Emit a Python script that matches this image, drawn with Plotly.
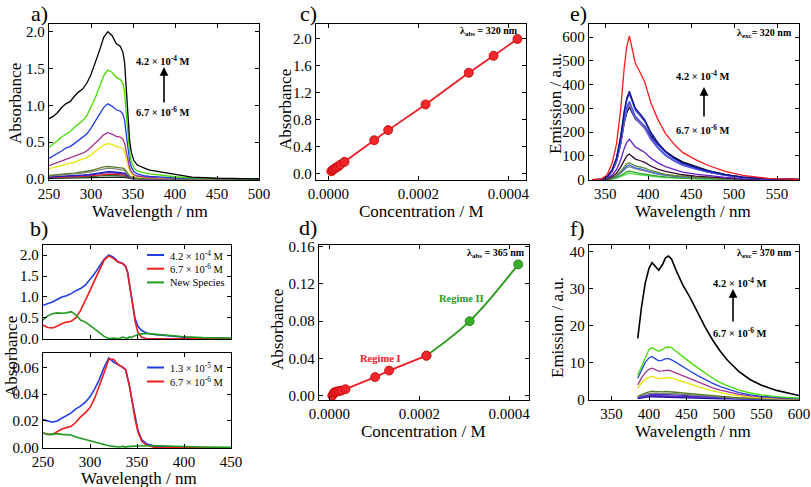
import plotly.graph_objects as go

W, H = 811, 487
SERIF = "Liberation Serif, Times New Roman, Times, serif"

# ---------------- Panel a: absorption spectra ----------------
WL_A = [250,255,260,265,270,275,280,285,290,295,300,305,310,315,320,325,330,335,338,340,342,344,346,348,351,355,360,365,370,380,390,400,420,450,500]
A_BLACK  = [0.82,0.85,0.90,0.97,1.02,1.05,1.12,1.18,1.22,1.30,1.42,1.57,1.74,1.92,2.00,1.95,1.84,1.80,1.72,1.58,1.20,0.82,0.52,0.36,0.25,0.19,0.16,0.14,0.12,0.10,0.08,0.055,0.025,0.01,0.0]
A_GREEN  = [0.43,0.47,0.52,0.57,0.61,0.64,0.70,0.75,0.79,0.86,0.97,1.10,1.25,1.40,1.48,1.45,1.38,1.35,1.30,1.18,0.88,0.58,0.36,0.24,0.15,0.11,0.09,0.08,0.07,0.055,0.045,0.03,0.015,0.005,0.0]
A_BLUE   = [0.28,0.31,0.34,0.38,0.42,0.44,0.48,0.52,0.56,0.61,0.69,0.78,0.87,0.97,1.02,0.99,0.94,0.92,0.88,0.80,0.60,0.40,0.25,0.16,0.10,0.07,0.05,0.04,0.035,0.025,0.02,0.015,0.008,0.003,0.0]
A_MAG    = [0.18,0.20,0.22,0.24,0.26,0.28,0.30,0.32,0.35,0.38,0.43,0.48,0.54,0.60,0.63,0.61,0.58,0.57,0.54,0.49,0.37,0.24,0.15,0.10,0.06,0.04,0.03,0.025,0.02,0.015,0.012,0.008,0.004,0.002,0.0]
A_YELLOW = [0.14,0.15,0.165,0.18,0.20,0.21,0.23,0.25,0.27,0.29,0.33,0.37,0.42,0.46,0.48,0.47,0.44,0.43,0.41,0.37,0.28,0.18,0.11,0.07,0.045,0.03,0.022,0.018,0.015,0.012,0.009,0.006,0.003,0.001,0.0]
A_OLIVE  = [0.05,0.053,0.058,0.063,0.07,0.075,0.08,0.087,0.093,0.10,0.115,0.13,0.148,0.163,0.17,0.166,0.158,0.155,0.148,0.135,0.10,0.065,0.04,0.027,0.018,0.012,0.009,0.007,0.006,0.005,0.004,0.003,0.002,0.001,0.0]
A_GRAY   = [0.04,0.043,0.048,0.053,0.058,0.062,0.068,0.073,0.078,0.085,0.097,0.11,0.125,0.14,0.148,0.145,0.138,0.135,0.13,0.118,0.088,0.057,0.035,0.023,0.015,0.01,0.008,0.006,0.005,0.004,0.003,0.002,0.001,0.0,0.0]
A_BLUE2  = [0.028,0.03,0.033,0.036,0.04,0.042,0.045,0.049,0.053,0.057,0.065,0.074,0.084,0.094,0.10,0.098,0.093,0.091,0.087,0.079,0.058,0.037,0.023,0.015,0.01,0.007,0.005,0.004,0.003,0.002,0.002,0.001,0.0,0.0,0.0]
A_PURPLE = [0.024,0.026,0.028,0.031,0.034,0.036,0.038,0.042,0.045,0.049,0.056,0.063,0.072,0.08,0.085,0.083,0.079,0.077,0.074,0.067,0.049,0.031,0.02,0.013,0.009,0.006,0.004,0.003,0.003,0.002,0.001,0.001,0.0,0.0,0.0]
A_RED    = [0.02,0.021,0.023,0.025,0.027,0.029,0.031,0.034,0.036,0.039,0.045,0.05,0.057,0.064,0.068,0.066,0.063,0.062,0.059,0.054,0.039,0.025,0.016,0.01,0.007,0.005,0.003,0.003,0.002,0.002,0.001,0.001,0.0,0.0,0.0]
A_DGREEN = [0.015,0.016,0.017,0.018,0.02,0.021,0.023,0.025,0.027,0.029,0.033,0.037,0.042,0.047,0.05,0.049,0.046,0.045,0.043,0.039,0.029,0.018,0.012,0.008,0.005,0.004,0.003,0.002,0.002,0.001,0.001,0.0,0.0,0.0,0.0]
A_DARK   = [0.009,0.01,0.011,0.012,0.013,0.014,0.015,0.016,0.017,0.018,0.02,0.022,0.025,0.028,0.03,0.029,0.028,0.027,0.026,0.023,0.017,0.011,0.007,0.005,0.003,0.002,0.002,0.001,0.001,0.001,0.0,0.0,0.0,0.0,0.0]

# ---------------- Panel b ----------------
WL_B = [250,255,260,265,270,275,280,285,290,295,300,305,310,315,320,325,330,335,338,340,342,344,346,348,351,355,360,365,370,380,390,400,420,450]
B_TOP_HIGH = [0.80,0.84,0.88,0.94,1.00,1.03,1.08,1.15,1.20,1.28,1.42,1.56,1.73,1.90,2.00,1.95,1.84,1.80,1.73,1.60,1.30,1.00,0.72,0.48,0.30,0.20,0.14,0.12,0.10,0.08,0.06,0.04,0.02,0.01]
B_TOP_LOW  = [0.33,0.27,0.26,0.30,0.36,0.40,0.42,0.50,0.68,0.90,1.15,1.40,1.65,1.88,1.98,1.92,1.83,1.79,1.72,1.58,1.30,1.00,0.70,0.42,0.15,0.04,0.01,0.0,0.0,0.0,0.0,0.0,0.0,0.0]
B_TOP_NEW  = [0.45,0.55,0.60,0.62,0.61,0.62,0.65,0.57,0.45,0.40,0.32,0.24,0.15,0.06,0.01,0.02,0.0,0.04,0.02,0.01,0.05,0.03,0.06,0.08,0.10,0.12,0.13,0.12,0.11,0.09,0.07,0.05,0.03,0.02]
B_BOT_HIGH = [0.021,0.020,0.019,0.020,0.022,0.024,0.026,0.029,0.031,0.034,0.038,0.044,0.051,0.060,0.067,0.064,0.062,0.060,0.058,0.053,0.046,0.038,0.030,0.022,0.013,0.006,0.003,0.002,0.001,0.001,0.0005,0.0,0.0,0.0]
B_BOT_LOW  = [0.011,0.010,0.010,0.012,0.014,0.015,0.016,0.019,0.023,0.026,0.030,0.037,0.046,0.056,0.066,0.066,0.062,0.060,0.058,0.053,0.046,0.038,0.029,0.021,0.012,0.005,0.002,0.001,0.0,0.0,0.0,0.0,0.0,0.0]
B_BOT_NEW  = [0.011,0.010,0.010,0.0105,0.010,0.010,0.0095,0.008,0.007,0.006,0.005,0.004,0.003,0.002,0.0015,0.001,0.0005,0.001,0.0005,0.0008,0.001,0.0008,0.001,0.0012,0.0013,0.0015,0.0018,0.0015,0.0015,0.0012,0.001,0.0008,0.0005,0.0003]
B_LABELS_TOP = ["4.2 × 10<sup>-4</sup> M", "6.7 × 10<sup>-6</sup> M", "New Species"]
B_LABELS_BOT = ["1.3 × 10<sup>-5</sup> M", "6.7 × 10<sup>-6</sup> M"]
B_COLORS = ["#1f3fe0", "#ee1c1c", "#1f9a1f"]

# ---------------- Panel c ----------------
CONC_C = [6.7e-6,1.0e-5,1.3e-5,1.7e-5,2.2e-5,2.7e-5,3.6e-5,1.02e-4,1.33e-4,2.16e-4,3.12e-4,3.67e-4,4.2e-4]
ABS_C  = [0.03,0.05,0.065,0.085,0.10,0.13,0.17,0.49,0.64,1.02,1.49,1.74,1.99]

# ---------------- Panel d ----------------
CONC_D1 = [6.7e-6,1.0e-5,1.3e-5,1.7e-5,2.2e-5,2.7e-5,3.6e-5,1.02e-4,1.33e-4,2.16e-4]
ABS_D1  = [0.0,0.003,0.004,0.0045,0.005,0.0055,0.007,0.020,0.027,0.043]
CONC_D2 = [2.16e-4,3.12e-4,4.2e-4]
ABS_D2  = [0.043,0.080,0.141]

# ---------------- Panel e: emission (exc 320 nm) ----------------
WL_E = [335,345,352,358,363,368,372,375,378,381,385,390,396,403,411,420,430,440,455,470,490,510,540,575]
E_RED    = [0,3,20,70,150,300,470,560,605,560,490,455,410,325,255,195,150,115,85,60,35,18,6,1]
E_NAVY   = [0,2,12,43,92,185,289,344,372,344,301,280,252,200,157,120,92,71,52,37,22,11,4,1]
E_BLUE1  = [0,2,12,42,90,180,281,335,362,335,293,272,245,194,152,117,90,69,51,36,21,11,4,1]
E_BLACK  = [0,2,10,35,76,151,237,282,305,285,255,240,225,185,150,120,95,75,55,38,22,11,4,1]
E_BLUE2  = [0,2,11,38,82,164,256,306,330,306,267,248,224,177,139,106,82,63,46,33,19,10,3,1]
E_PINK   = [0,2,11,37,80,160,250,298,322,298,261,242,218,173,136,104,80,61,45,32,19,10,3,1]
E_BLUE3  = [0,2,10,37,78,156,245,292,315,292,255,237,214,169,133,101,78,60,44,31,18,9,3,1]
E_PURPLE = [0,1,6,20,42,84,132,157,170,157,138,128,115,91,72,55,42,32,24,17,10,5,2,0]
E_MAROON = [0,1,4,13,27,54,84,100,108,100,87,81,73,58,45,35,27,21,15,11,6,3,1,0]
E_OLIVE  = [0,0,2,8,18,36,56,67,72,67,58,54,49,39,30,23,18,14,10,7,4,2,1,0]
E_BLUE4  = [0,0,2,7,15,31,48,57,62,57,50,47,42,33,26,20,15,12,9,6,4,2,1,0]
E_GRAY   = [0,0,2,6,14,27,43,51,55,51,45,41,37,30,23,18,14,10,8,5,3,2,1,0]
E_GREEN  = [0,0,1,4,9,18,28,33,36,33,29,27,24,19,15,12,9,7,5,4,2,1,0,0]
E_LGREEN = [0,0,1,3,7,14,22,26,28,26,23,21,19,15,12,9,7,5,4,3,2,1,0,0]

# ---------------- Panel f: emission (exc 370 nm) ----------------
WL_F = [385,390,395,400,404,408,413,418,422,426,430,436,445,455,465,475,485,495,505,520,535,550,570,600]
F_BLACK  = [16.5,25,31.5,35.5,37,36.2,35,36.5,38.3,38.8,38,35,31,27.5,23.5,19.5,16,13,10.5,7.5,5.3,3.8,2.4,1.0]
F_GREEN  = [6.5,9,11.5,13.5,14,13.5,13,13.5,14,14.2,14,13,11.5,10,8.5,7,5.7,4.5,3.6,2.5,1.7,1.2,0.7,0.3]
F_BLUE   = [5.7,8,10,11.2,11.6,11,10.4,10.6,11,11,10.7,10,8.8,7.6,6.4,5.3,4.3,3.4,2.7,1.8,1.2,0.8,0.5,0.2]
F_MAG    = [3.9,5.8,7.2,8.1,8.4,8.1,7.6,7.7,7.9,7.9,7.6,7.1,6.3,5.4,4.6,3.8,3.1,2.5,2.0,1.3,0.9,0.6,0.3,0.1]
F_YELLOW = [3.0,4.4,5.4,6.0,6.2,6.0,5.6,5.7,5.9,5.9,5.7,5.3,4.7,4.0,3.4,2.8,2.3,1.8,1.4,0.9,0.6,0.4,0.2,0.1]
F_OLIVE  = [0.8,1.3,1.7,2.0,2.2,2.1,2.0,2.0,2.1,2.1,2.0,1.9,1.7,1.5,1.3,1.1,0.9,0.7,0.55,0.35,0.22,0.15,0.1,0.05]
F_GRAY   = [0.7,1.1,1.4,1.6,1.7,1.65,1.6,1.6,1.65,1.65,1.6,1.5,1.35,1.2,1.0,0.85,0.7,0.55,0.45,0.3,0.2,0.12,0.08,0.04]
F_BLUE2  = [0.5,0.8,1.0,1.2,1.3,1.25,1.2,1.2,1.25,1.25,1.2,1.1,1.0,0.9,0.75,0.65,0.52,0.42,0.33,0.22,0.15,0.1,0.06,0.03]
F_PURPLE = [0.4,0.6,0.8,0.95,1.0,0.97,0.93,0.93,0.97,0.97,0.93,0.86,0.78,0.68,0.58,0.5,0.4,0.32,0.26,0.17,0.11,0.07,0.04,0.02]
F_NAVY   = [0.3,0.5,0.65,0.75,0.8,0.78,0.75,0.75,0.78,0.78,0.75,0.7,0.62,0.55,0.47,0.4,0.32,0.26,0.2,0.14,0.09,0.06,0.03,0.01]

# ---------------------------------------------------------------
def px(x):
    return x / W

def py(y):
    return 1 - y / H

fig = go.Figure()

def line(x, y, color, ax, width=1.3, name=None, shape="linear"):
    fig.add_trace(go.Scatter(
        x=x, y=y, mode="lines", line=dict(color=color, width=width, shape=shape),
        xaxis="x" + ax, yaxis="y" + ax, name=name or "",
        showlegend=False, hoverinfo="skip"))

# a
for ys, c in [(A_DARK, "#202020"), (A_DGREEN, "#1f6f1f"), (A_RED, "#e02020"), (A_PURPLE, "#8020c0"),
              (A_BLUE2, "#2020c0"), (A_GRAY, "#7f7f7f"), (A_OLIVE, "#5a7f2a"), (A_YELLOW, "#e6e600"),
              (A_MAG, "#a83294"), (A_BLUE, "#1c3ee6"), (A_GREEN, "#44dd00"), (A_BLACK, "#000000")]:
    line(WL_A, ys, c, "1")

# b top
line(WL_B, B_TOP_HIGH, B_COLORS[0], "2", 1.6, B_LABELS_TOP[0])
line(WL_B, B_TOP_LOW, B_COLORS[1], "2", 1.6, B_LABELS_TOP[1])
line(WL_B, B_TOP_NEW, B_COLORS[2], "2", 1.6, B_LABELS_TOP[2])
# b bottom
line(WL_B, B_BOT_HIGH, B_COLORS[0], "3", 1.6, B_LABELS_BOT[0])
line(WL_B, B_BOT_LOW, B_COLORS[1], "3", 1.6, B_LABELS_BOT[1])
line(WL_B, B_BOT_NEW, B_COLORS[2], "3", 1.6)

# c
fig.add_trace(go.Scatter(x=CONC_C, y=ABS_C, mode="lines+markers", xaxis="x4", yaxis="y4",
                         line=dict(color="#ee1c24", width=1.8),
                         marker=dict(size=9, color="#f0282e", line=dict(color="#c00000", width=0.8)),
                         showlegend=False, hoverinfo="skip"))
# d
fig.add_trace(go.Scatter(x=CONC_D2, y=ABS_D2, mode="lines+markers", xaxis="x5", yaxis="y5",
                         line=dict(color="#2a9a1a", width=1.8, shape="spline"),
                         marker=dict(size=9, color="#35b02a", line=dict(color="#1a7a10", width=0.8)),
                         showlegend=False, hoverinfo="skip"))
fig.add_trace(go.Scatter(x=CONC_D1, y=ABS_D1, mode="lines+markers", xaxis="x5", yaxis="y5",
                         line=dict(color="#ee1c24", width=1.8),
                         marker=dict(size=9, color="#f0282e", line=dict(color="#c00000", width=0.8)),
                         showlegend=False, hoverinfo="skip"))

# e
for ys, c in [(E_LGREEN, "#44dd44"), (E_GREEN, "#2aa82a"), (E_GRAY, "#8a8a8a"), (E_BLUE4, "#3a6ae0"),
              (E_OLIVE, "#5a8a2a"), (E_MAROON, "#3a0a2a"), (E_PURPLE, "#6a1fc8"), (E_BLACK, "#000000"),
              (E_BLUE3, "#4477ee"), (E_PINK, "#cc5599"), (E_BLUE2, "#3355ff"), (E_BLUE1, "#2233dd"),
              (E_NAVY, "#141480"), (E_RED, "#ff1a1a")]:
    line(WL_E, ys, c, "6", 1.3)

# f
for ys, c, w in [(F_NAVY, "#1a1aa0", 2.2), (F_PURPLE, "#7a22cc", 1.3), (F_BLUE2, "#3333cc", 1.3),
                 (F_GRAY, "#808080", 1.3), (F_OLIVE, "#5a7f2a", 1.3), (F_YELLOW, "#e6e600", 1.3),
                 (F_MAG, "#a83294", 1.3), (F_BLUE, "#2244e0", 1.3), (F_GREEN, "#44e000", 1.3),
                 (F_BLACK, "#000000", 1.6)]:
    line(WL_F, ys, c, "7", w)

# ---------------- axes ----------------
def axis(dom, rng, dtick, fmt, anchor, tick0=0, labels=True):
    return dict(domain=dom, range=rng, dtick=dtick, tick0=tick0, tickformat=fmt, anchor=anchor,
                showline=True, linecolor="black", linewidth=1.3, mirror="ticks",
                ticks="inside", ticklen=4, tickwidth=1.1, tickcolor="black",
                showgrid=False, zeroline=False, showticklabels=labels, automargin=False,
                tickfont=dict(family=SERIF, size=15, color="black"))

def xd(l, r):
    return [px(l), px(r)]

def yd(t, b):
    return [py(b), py(t)]

layout_axes = dict(
    xaxis=axis(xd(49, 259), [250, 500], 50, "d", "y", 250),
    yaxis=axis(yd(24, 180), [-0.014, 2.105], 0.5, ".1f", "x"),
    xaxis2=axis(xd(43, 231), [250, 450], 50, "d", "y2", 250, labels=False),
    yaxis2=axis(yd(245, 339), [-0.003, 2.24], 0.5, ".1f", "x2"),
    xaxis3=axis(xd(43, 231), [250, 450], 50, "d", "y3", 250),
    yaxis3=axis(yd(353, 448), [-0.0002, 0.0707], 0.02, ".2f", "x3"),
    xaxis4=axis(xd(316, 526), [-2.73e-5, 4.39e-4], 0.0002, ".4f", "y4"),
    yaxis4=axis(yd(24, 180), [-0.099, 2.212], 0.4, ".1f", "x4"),
    xaxis5=axis(xd(319, 529), [-2.29e-5, 4.44e-4], 0.0002, ".4f", "y5"),
    yaxis5=axis(yd(245, 400), [-0.0046, 0.1618], 0.04, ".2f", "x5"),
    xaxis6=axis(xd(589, 799), [331, 575.6], 50, "d", "y6", 350),
    yaxis6=axis(yd(24, 180), [-1, 655], 100, "d", "x6"),
    xaxis7=axis(xd(589, 799), [320, 600], 50, "d", "y7", 350),
    yaxis7=axis(yd(245, 400), [-0.2, 41.8], 10, "d", "x7"),
)

# ---------------- annotations ----------------
ann = []
shapes = []

def text(x, y, t, size=16, bold=False, color="black", angle=0, xanchor="center"):
    if bold:
        t = "<b>" + t + "</b>"
    ann.append(dict(x=px(x), y=py(y), xref="paper", yref="paper", text=t, showarrow=False,
                    xanchor=xanchor, yanchor="middle", textangle=angle,
                    font=dict(family=SERIF, size=size, color=color)))

def arrow(x, y_head, y_tail):
    ann.append(dict(x=px(x), y=py(y_head), xref="paper", yref="paper", text="",
                    showarrow=True, ax=0, ay=y_tail - y_head, axref="pixel", ayref="pixel",
                    arrowhead=2, arrowsize=1.1, arrowwidth=1.6, arrowcolor="black"))

def legend_entry(x0, y, label, color):
    shapes.append(dict(type="line", xref="paper", yref="paper", x0=px(x0), x1=px(x0 + 17),
                       y0=py(y), y1=py(y), line=dict(color=color, width=2)))
    text(x0 + 21, y, label, 10.5, xanchor="left")

# panel labels
for lab, x, y in [("a)", 39, 13), ("b)", 39, 228), ("c)", 308, 14), ("d)", 308, 227), ("e)", 578, 13), ("f)", 577, 228)]:
    text(x, y, lab, size=22)

# axis titles
TS = 17
text(15, 104, "Absorbance", TS, angle=-90)
text(150, 211, "Wavelength / nm", TS)
text(11, 357, "Absorbance", TS, angle=-90)
text(139, 478, "Wavelength / nm", TS)
text(285, 110, "Absorbance", TS, angle=-90)
text(421, 211, "Concentration / M", TS)
text(277, 330, "Absorbance", TS, angle=-90)
text(423, 431, "Concentration / M", TS)
text(555, 104, "Emission / a.u.", TS, angle=-90)
text(693, 211, "Wavelength / nm", TS)
text(557, 328, "Emission / a.u.", TS, angle=-90)
text(693, 431, "Wavelength / nm", TS)

# b legends
for i, lab in enumerate(B_LABELS_TOP):
    legend_entry(147, 255 + 13.7 * i, lab, B_COLORS[i])
for i, lab in enumerate(B_LABELS_BOT):
    legend_entry(147, 367.5 + 14 * i, lab, B_COLORS[i])

# concentration arrows
AS = 10.5
text(163, 60, "4.2 × 10<sup>-4</sup> M", AS, bold=True)
text(163, 111, "6.7 × 10<sup>-6</sup> M", AS, bold=True)
arrow(164, 67, 104)
text(703, 76, "4.2 × 10<sup>-4</sup> M", AS, bold=True)
text(703, 129, "6.7 × 10<sup>-6</sup> M", AS, bold=True)
arrow(704, 87, 118)
text(740, 282, "4.2 × 10<sup>-4</sup> M", AS, bold=True)
text(740, 332, "6.7 × 10<sup>-6</sup> M", AS, bold=True)
arrow(733, 289, 323)

# wavelength labels
text(520, 32, "λ<sub>abs</sub> = 320 nm", 10, bold=True, xanchor="right")
text(527, 254, "λ<sub>abs</sub> = 365 nm", 10, bold=True, xanchor="right")
text(794, 33, "λ<sub>exc</sub>= 320 nm", 10, bold=True, xanchor="right")
text(794, 254, "λ<sub>exc</sub>= 370 nm", 10, bold=True, xanchor="right")

# regimes
text(380, 358, "Regime I", 10.5, bold=True, color="#e8202a")
text(462, 298, "Regime II", 10.5, bold=True, color="#2a9a1a")

fig.update_layout(
    template="none",
    width=W, height=H, margin=dict(l=0, r=0, t=0, b=0, pad=0, autoexpand=False),
    paper_bgcolor="white", plot_bgcolor="white",
    font=dict(family=SERIF, color="black"),
    showlegend=False,
    annotations=ann,
    shapes=shapes,
    **layout_axes,
)

fig.write_html("out.html", config={"displayModeBar": False},
               post_script="document.body.style.margin='0px';document.body.style.padding='0px';")
